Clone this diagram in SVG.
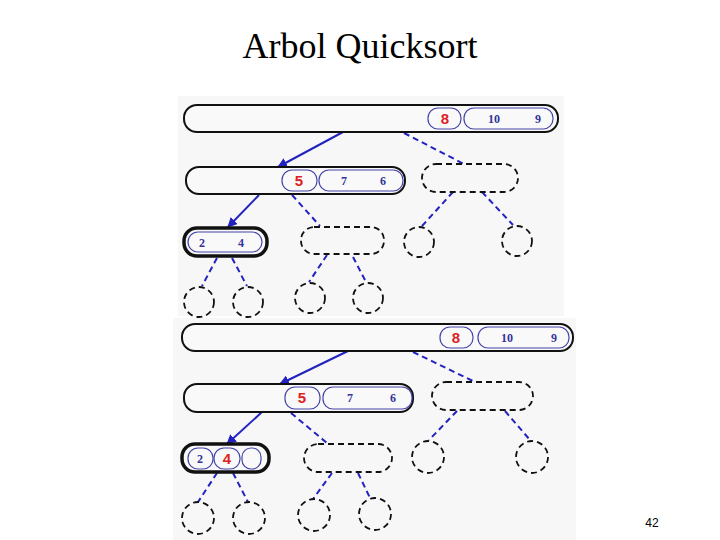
<svg xmlns="http://www.w3.org/2000/svg" width="720" height="540" viewBox="0 0 720 540">
<defs>
<marker id="ah" viewBox="0 0 10 10" refX="9" refY="5" markerWidth="5" markerHeight="5" orient="auto"><path d="M0,0 L10,5 L0,10 z" fill="#2222c0"/></marker>
<style>
.panel{fill:#f7f7f7}
.node{fill:#f9f9f9;stroke:#111;stroke-width:2}
.thick{fill:#f9f9f9;stroke:#111;stroke-width:3.5}
.empty{fill:none;stroke:#111;stroke-width:1.8;stroke-dasharray:6,4}
.pill{fill:none;stroke:#4444aa;stroke-width:1.2}
.solid{stroke:#2222c0;stroke-width:2;fill:none}
.dash{stroke:#2222c0;stroke-width:2;fill:none;stroke-dasharray:6,4}
.red{font-family:"Liberation Sans",Arial,sans-serif;font-weight:bold;font-size:15px;fill:#dd2222;text-anchor:middle}
.blue{font-family:"Liberation Serif","Times New Roman",serif;font-size:12px;fill:#333399;text-anchor:middle;font-weight:bold}
</style>
</defs>
<rect width="720" height="540" fill="#ffffff"/>
<text x="360" y="58" font-family="Liberation Serif,'Times New Roman',serif" font-size="36" text-anchor="middle" fill="#000">Arbol Quicksort</text>
<text x="652" y="527" font-family="Liberation Sans,Arial,sans-serif" font-size="12" text-anchor="middle" fill="#000">42</text>
<rect class="panel" x="178" y="96" width="386" height="220"/>
<rect class="panel" x="173" y="318" width="403" height="222"/>

<g id="connectors">
<line class="solid" x1="343" y1="132" x2="278" y2="167" marker-end="url(#ah)"/>
<line class="dash" x1="404" y1="133" x2="464" y2="164"/>
<line class="solid" x1="259" y1="195" x2="228" y2="227" marker-end="url(#ah)"/>
<line class="dash" x1="292" y1="195" x2="320" y2="226"/>
<line class="dash" x1="453" y1="192" x2="422" y2="226"/>
<line class="dash" x1="482" y1="192" x2="513" y2="225"/>
<line class="dash" x1="217" y1="258" x2="202" y2="286"/>
<line class="dash" x1="232" y1="258" x2="247" y2="286"/>
<line class="dash" x1="327" y1="255" x2="309" y2="282"/>
<line class="dash" x1="353" y1="257" x2="366" y2="282"/>

<line class="solid" x1="348" y1="351" x2="280" y2="384" marker-end="url(#ah)"/>
<line class="dash" x1="413" y1="352" x2="475" y2="382"/>
<line class="solid" x1="262" y1="412" x2="227" y2="444" marker-end="url(#ah)"/>
<line class="dash" x1="291" y1="413" x2="327" y2="443"/>
<line class="dash" x1="457" y1="411" x2="429" y2="440"/>
<line class="dash" x1="505" y1="411" x2="530" y2="440"/>
<line class="dash" x1="217" y1="473" x2="198" y2="502"/>
<line class="dash" x1="233" y1="473" x2="248" y2="502"/>
<line class="dash" x1="332" y1="473" x2="313" y2="499"/>
<line class="dash" x1="358" y1="473" x2="370" y2="498"/>
</g>

<g id="t1-root">
<rect class="node" x="184" y="105" width="374" height="27" rx="13"/>
<rect class="pill" x="428" y="108" width="33" height="21" rx="10"/>
<text class="red" x="445" y="124">8</text>
<rect class="pill" x="464" y="108" width="89" height="21" rx="10"/>
<text class="blue" x="494" y="123">10</text>
<text class="blue" x="538" y="123">9</text>
</g>
<g id="t1-l2a">
<rect class="node" x="186" y="167" width="219" height="27" rx="13"/>
<rect class="pill" x="282" y="170" width="35" height="21" rx="10"/>
<text class="red" x="299" y="186">5</text>
<rect class="pill" x="319" y="170" width="84" height="21" rx="10"/>
<text class="blue" x="344" y="185" font-weight="normal">7</text>
<text class="blue" x="383" y="185">6</text>
</g>
<rect id="t1-l2b" class="empty" x="422" y="164" width="96" height="28" rx="14"/>
<g id="t1-l3a">
<rect class="thick" x="184" y="228" width="83" height="28" rx="13"/>
<rect class="pill" x="188" y="232" width="74" height="20" rx="10"/>
<text class="blue" x="202" y="247" font-weight="normal">2</text>
<text class="blue" x="241" y="247">4</text>
</g>
<rect id="t1-l3b" class="empty" x="301" y="227" width="83" height="27" rx="13"/>
<circle id="t1-l3c" class="empty" cx="419" cy="242" r="15"/>
<circle id="t1-l3d" class="empty" cx="517" cy="241" r="15"/>
<circle id="t1-l4a" class="empty" cx="199" cy="302" r="15"/>
<circle id="t1-l4b" class="empty" cx="248" cy="302" r="15"/>
<circle id="t1-l4c" class="empty" cx="310" cy="298" r="15"/>
<circle id="t1-l4d" class="empty" cx="368" cy="298" r="15"/>

<g id="t2-root">
<rect class="node" x="182" y="324" width="391" height="27" rx="13"/>
<rect class="pill" x="440" y="327" width="33" height="21" rx="10"/>
<text class="red" x="456" y="343">8</text>
<rect class="pill" x="478" y="327" width="91" height="21" rx="10"/>
<text class="blue" x="507" y="342">10</text>
<text class="blue" x="554" y="342">9</text>
</g>
<g id="t2-l2a">
<rect class="node" x="184" y="384" width="229" height="28" rx="13"/>
<rect class="pill" x="285" y="387" width="35" height="22" rx="10"/>
<text class="red" x="302" y="403">5</text>
<rect class="pill" x="323" y="387" width="89" height="22" rx="10"/>
<text class="blue" x="350" y="402" font-weight="normal">7</text>
<text class="blue" x="393" y="402">6</text>
</g>
<rect id="t2-l2b" class="empty" x="432" y="382" width="101" height="28" rx="14"/>
<g id="t2-l3a">
<rect class="thick" x="182" y="444" width="87" height="28" rx="13"/>
<rect class="pill" x="188" y="448" width="25" height="21" rx="10"/>
<text class="blue" x="200" y="463" font-weight="normal">2</text>
<rect class="pill" x="214" y="448" width="26" height="21" rx="10"/>
<text class="red" x="227" y="464">4</text>
<rect class="pill" x="242" y="448" width="19" height="21" rx="9"/>
</g>
<rect id="t2-l3b" class="empty" x="304" y="444" width="88" height="28" rx="14"/>
<circle id="t2-l3c" class="empty" cx="428" cy="457" r="16"/>
<circle id="t2-l3d" class="empty" cx="532" cy="457" r="16"/>
<circle id="t2-l4a" class="empty" cx="198" cy="518" r="16"/>
<circle id="t2-l4b" class="empty" cx="249" cy="518" r="16"/>
<circle id="t2-l4c" class="empty" cx="314" cy="515" r="16"/>
<circle id="t2-l4d" class="empty" cx="375" cy="514" r="16"/>
</svg>
